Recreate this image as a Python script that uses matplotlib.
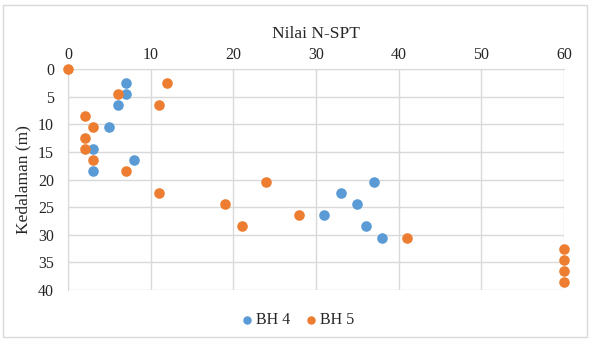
import matplotlib
matplotlib.use("Agg")
import matplotlib.pyplot as plt
from matplotlib.patches import Rectangle

# BH 4 data (N-SPT value, depth m)
bh4_nspt = [7, 7, 6, 5, 3, 8, 3, 37, 33, 35, 31, 36, 38]
bh4_depth = [2.5, 4.5, 6.5, 10.5, 14.5, 16.5, 18.5, 20.5, 22.5, 24.5, 26.5, 28.5, 30.5]

# BH 5 data
bh5_nspt = [0, 12, 6, 11, 2, 3, 2, 2, 3, 7, 24, 11, 19, 28, 21, 41, 60, 60, 60, 60]
bh5_depth = [0, 2.5, 4.5, 6.5, 8.5, 10.5, 12.5, 14.5, 16.5, 18.5, 20.5, 22.5,
             24.5, 26.5, 28.5, 30.5, 32.5, 34.5, 36.5, 38.5]

x_ticks = [0, 10, 20, 30, 40, 50, 60]
y_ticks = [0, 5, 10, 15, 20, 25, 30, 35, 40]

BLUE = "#5B9BD5"
ORANGE = "#ED7D31"
GRID = "#D9D9D9"
TXT = "#262626"

plt.rcParams["font.family"] = ["Liberation Serif", "DejaVu Serif"]

W, H = 591, 342
fig = plt.figure(figsize=(W / 100, H / 100), dpi=100)

# outer chart border
fig.patches.append(Rectangle((3 / W, 5 / H), 584 / W, 332 / H, transform=fig.transFigure,
                             fill=False, edgecolor=GRID, linewidth=1.0))

ax = fig.add_axes([68 / W, 1 - 290 / H, (564 - 68) / W, (290 - 69) / H])

ax.scatter(bh4_nspt, bh4_depth, s=58, color=BLUE, label="BH 4", zorder=3,
           linewidths=0, clip_on=False)
ax.scatter(bh5_nspt, bh5_depth, s=58, color=ORANGE, label="BH 5", zorder=3,
           linewidths=0, clip_on=False)

ax.set_xlim(0, 60)
ax.set_ylim(40, 0)
ax.set_xticks(x_ticks)
ax.set_yticks(y_ticks)
ax.xaxis.tick_top()
ax.xaxis.set_label_position("top")
ax.tick_params(length=0, labelsize=11.5, colors=TXT, pad=4)
ax.tick_params(axis="y", pad=10)

ax.grid(True, color=GRID, linewidth=1.0, zorder=0)
ax.set_axisbelow(True)
for side, sp in ax.spines.items():
    sp.set_visible(side in ("left", "top"))
    sp.set_color(GRID)

ax.set_xlabel("Nilai N-SPT", fontsize=12.5, color=TXT, labelpad=7)
ax.set_ylabel("Kedalaman (m)", fontsize=12.5, color=TXT, labelpad=5)

leg = fig.legend(loc="center", bbox_to_anchor=(298 / W, 1 - 320 / H), ncol=2,
                 frameon=False, fontsize=11.5, handlelength=0.6, handletextpad=0.25,
                 columnspacing=1.0, markerscale=0.8)
for t in leg.get_texts():
    t.set_color(TXT)

fig.savefig("out.png", dpi=100)
